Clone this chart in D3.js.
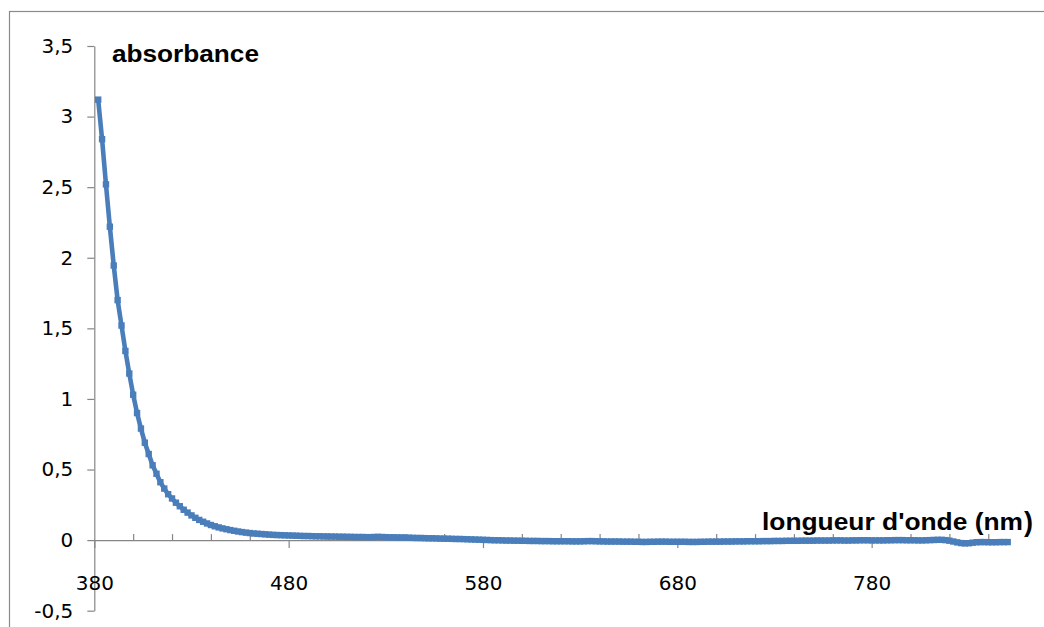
<!DOCTYPE html>
<html>
<head>
<meta charset="utf-8">
<script src="https://cdn.jsdelivr.net/npm/d3@7"></script>
<style>
    html, body { margin: 0; padding: 0; background: #fff; }
    svg { display: block; }
</style>
</head>
<body>
<svg id="chart" width="1044" height="627"></svg>
<script>
// Spectre d'absorbance (pas de 2 nm, 382 -> 850 nm)
const lambdaStart = 382, lambdaStep = 2;
const absorbance = [
    3.12, 2.84, 2.52, 2.22, 1.945, 1.70, 1.52, 1.34, 1.18, 1.03,
    0.90, 0.79, 0.69, 0.61, 0.53, 0.47, 0.41, 0.365, 0.325, 0.295,
    0.265, 0.24, 0.215, 0.195, 0.175, 0.158, 0.143, 0.13, 0.118, 0.107,
    0.098, 0.09, 0.083, 0.077, 0.071, 0.066, 0.061, 0.057, 0.053, 0.05,
    0.047, 0.045, 0.043, 0.041, 0.039, 0.037, 0.036, 0.035, 0.034, 0.033,
    0.032, 0.031, 0.030, 0.029, 0.029, 0.028, 0.027, 0.027, 0.026, 0.026,
    0.025, 0.025, 0.024, 0.024, 0.023, 0.023, 0.022, 0.022, 0.022, 0.021,
    0.021, 0.022, 0.023, 0.022, 0.021, 0.020, 0.020, 0.019, 0.019, 0.018,
    0.017, 0.016, 0.015, 0.015, 0.014, 0.013, 0.013, 0.012, 0.011, 0.010,
    0.010, 0.009, 0.008, 0.008, 0.007, 0.006, 0.005, 0.004, 0.003, 0.002,
    0.001, 0.000, -0.001, -0.001, -0.002, -0.003, -0.003, -0.004, -0.004, -0.005,
    -0.005, -0.006, -0.006, -0.006, -0.007, -0.007, -0.007, -0.008, -0.008, -0.008,
    -0.008, -0.008, -0.009, -0.009, -0.009, -0.008, -0.007, -0.007, -0.008, -0.009,
    -0.009, -0.010, -0.010, -0.010, -0.010, -0.011, -0.011, -0.011, -0.012, -0.012,
    -0.013, -0.013, -0.012, -0.012, -0.011, -0.011, -0.011, -0.012, -0.012, -0.012,
    -0.012, -0.012, -0.013, -0.013, -0.013, -0.012, -0.012, -0.011, -0.011, -0.011,
    -0.011, -0.010, -0.010, -0.010, -0.009, -0.009, -0.009, -0.008, -0.008, -0.008,
    -0.008, -0.007, -0.007, -0.007, -0.006, -0.006, -0.006, -0.005, -0.005, -0.005,
    -0.005, -0.004, -0.004, -0.004, -0.004, -0.003, -0.003, -0.003, -0.003, -0.002,
    -0.002, -0.002, -0.003, -0.003, -0.002, -0.002, -0.001, -0.001, -0.001, -0.002,
    -0.002, -0.002, -0.002, -0.001, -0.001, 0.000, 0.000, 0.000, -0.001, -0.001,
    -0.001, -0.002, -0.002, -0.001, 0.000, 0.001, 0.002, 0.002, 0.000, -0.004,
    -0.010, -0.016, -0.021, -0.023, -0.022, -0.018, -0.015, -0.014, -0.014, -0.015,
    -0.015, -0.015, -0.014, -0.014, -0.014
];
const wavelengths = absorbance.map((d, i) => lambdaStart + i * lambdaStep);

// Graduations
const xMajorTicks = [380, 480, 580, 680, 780];
const xMinorTicks = [400, 420, 440, 460, 500, 520, 540, 560, 600, 620, 640, 660,
                     700, 720, 740, 760, 800, 820, 840];
const yTicks = [-0.5, 0, 0.5, 1, 1.5, 2, 2.5, 3, 3.5];
const yTickLabels = ['-0,5', '0', '0,5', '1', '1,5', '2', '2,5', '3', '3,5'];
const xTitle = "longueur d'onde (nm", xTitleEnd = ')';
const yTitle = 'absorbance';

const X0 = 94.3, X1 = 1007.7;
const Y_TOP = 46, Y_BOT = 610.7;
const AXIS = '#868686', BLUE = '#4a7ebb';
const NUM_FONT = '"DejaVu Sans", sans-serif';
const TITLE_FONT = '"Liberation Sans", Arial, sans-serif';

const svg = d3.select('#chart');

const x = d3.scaleLinear().domain([380, 850]).range([X0, X1]);
const y = d3.scaleLinear().domain([-0.5, 3.5]).range([Y_BOT, Y_TOP]);

// Cadre du graphique (déborde à droite et en bas)
svg.append('rect')
    .attr('x', 9.5).attr('y', 11.5)
    .attr('width', 1100).attr('height', 700)
    .attr('fill', '#fff')
    .attr('stroke', '#8a8a8a')
    .attr('stroke-width', 1.2);

// Axe Y
const yAxis = d3.axisLeft(y)
    .tickValues(yTicks)
    .tickFormat((d, i) => yTickLabels[i])
    .tickSize(7)
    .tickSizeOuter(0)
    .tickPadding(14);
const gy = svg.append('g')
    .attr('transform', `translate(${X0},0)`)
    .call(yAxis);
gy.select('.domain').attr('stroke', AXIS).attr('stroke-width', 1.2);
gy.selectAll('.tick line').attr('stroke', AXIS).attr('stroke-width', 1.2);
gy.selectAll('.tick text')
    .attr('fill', '#000')
    .attr('font-family', NUM_FONT)
    .attr('font-size', 20);

// Axe X : graduations principales vers le bas, secondaires vers le haut
const gxMinor = svg.append('g')
    .attr('transform', `translate(0,${y(0)})`)
    .call(d3.axisTop(x).tickValues(xMinorTicks).tickSize(6).tickSizeOuter(0).tickFormat(''));
gxMinor.select('.domain').attr('stroke', AXIS).attr('stroke-width', 1.2);
gxMinor.selectAll('.tick line').attr('stroke', AXIS).attr('stroke-width', 1.2);

const gx = svg.append('g')
    .attr('transform', `translate(0,${y(0)})`)
    .call(d3.axisBottom(x).tickValues(xMajorTicks).tickSize(8).tickSizeOuter(0).tickPadding(28));
gx.select('.domain').remove();
gx.selectAll('.tick line').attr('stroke', AXIS).attr('stroke-width', 1.2);
gx.selectAll('.tick text')
    .attr('fill', '#000')
    .attr('font-family', NUM_FONT)
    .attr('font-size', 20);

// Courbe
const pts = wavelengths.map((w, i) => [w, absorbance[i]]);
const line = d3.line().x(d => x(d[0])).y(d => y(d[1]));

svg.append('path')
    .datum(pts)
    .attr('d', line)
    .attr('fill', 'none')
    .attr('stroke', BLUE)
    .attr('stroke-width', 4.6)
    .attr('stroke-linejoin', 'round');

const M = 6.4;
svg.append('g').selectAll('rect')
    .data(pts)
    .join('rect')
    .attr('x', d => x(d[0]) - M / 2)
    .attr('y', d => y(d[1]) - M / 2)
    .attr('width', M)
    .attr('height', M)
    .attr('fill', BLUE);

// Titres des axes
svg.append('text')
    .attr('x', 112).attr('y', 62)
    .attr('font-family', TITLE_FONT)
    .attr('font-weight', 'bold')
    .attr('font-size', 23.5)
    .attr('textLength', 147)
    .attr('lengthAdjust', 'spacingAndGlyphs')
    .text(yTitle);

svg.append('text')
    .attr('x', 762).attr('y', 530)
    .attr('font-family', TITLE_FONT)
    .attr('font-weight', 'bold')
    .attr('font-size', 23.5)
    .attr('textLength', 261)
    .attr('lengthAdjust', 'spacingAndGlyphs')
    .text(xTitle);

svg.append('text')
    .attr('x', 1024).attr('y', 531)
    .attr('font-family', TITLE_FONT)
    .attr('font-weight', 'bold')
    .attr('font-size', 27)
    .text(xTitleEnd);
</script>
</body>
</html>
